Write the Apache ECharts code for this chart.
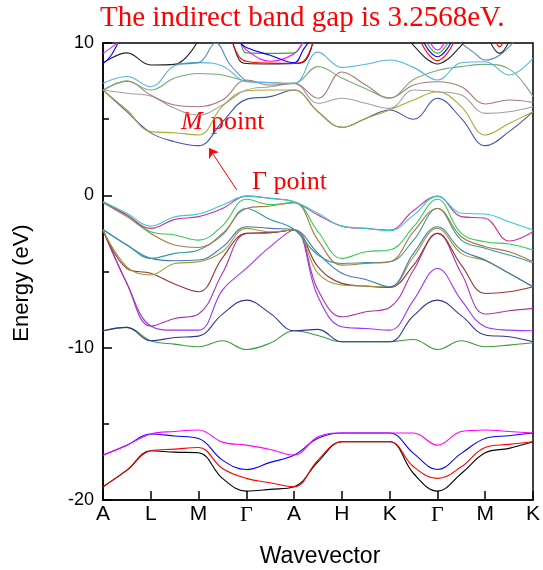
<!DOCTYPE html>
<html>
<head>
<meta charset="utf-8">
<script src="https://cdn.jsdelivr.net/npm/echarts@6/dist/echarts.min.js"></script>
<style>
html,body{margin:0;padding:0;background:#fff;}
#chart{width:543px;height:570px;}
</style>
</head>
<body>
<div id="chart"></div>
<script>
// k-path: A L M G A H K G M K, half steps
var kPath = [0,0.5,1,1.5,2,2.5,3,3.5,4,4.5,5,5.5,6,6.5,7,7.5,8,8.5,9];
var kLabels = ['A','L','M','Γ','A','H','K','Γ','M','K'];

// semicore bands (-15 .. -20 eV)
var core1 = [-19.13,-18.04,-16.77,-16.86,-16.9,-18.58,-19.42,-19.3,-19.13,-17.49,-16.18,-16.18,-16.18,-18.26,-19.42,-18.26,-16.9,-16.61,-16.18];
var core2 = [-19.13,-18.04,-16.77,-16.66,-16.55,-17.93,-18.58,-18.87,-19.13,-17.38,-16.18,-16.18,-16.18,-17.82,-18.58,-17.82,-16.55,-16.35,-16.18];
var core3 = [-17.05,-16.4,-15.67,-15.8,-15.96,-17.38,-18.0,-17.53,-17.05,-15.95,-15.6,-15.6,-15.6,-16.94,-18.0,-16.94,-15.96,-15.78,-15.6];
var core4 = [-17.05,-16.4,-15.67,-15.5,-15.4,-16.2,-16.4,-16.68,-17.05,-15.85,-15.6,-15.6,-15.6,-15.6,-16.4,-15.5,-15.4,-15.5,-15.6];

// valence bands
var val1 = [-8.89,-8.67,-9.55,-9.77,-9.94,-9.55,-10.12,-9.7,-8.89,-9.2,-9.61,-9.61,-9.61,-9.46,-10.12,-9.55,-9.94,-9.83,-9.68];
var val2 = [-8.89,-8.67,-9.55,-9.33,-9.24,-7.8,-6.88,-7.75,-8.89,-8.8,-9.61,-9.61,-9.61,-7.9,-6.88,-7.9,-9.17,-9.28,-9.61];
var val3 = [-2.28,-5.78,-8.58,-8.85,-8.85,-6.22,-4.8,-3.37,-2.28,-6.66,-8.63,-8.74,-8.85,-6.88,-4.8,-6.88,-8.63,-8.85,-8.89];
var val4 = [-2.28,-5.78,-8.58,-8.08,-7.79,-5.12,-2.5,-2.45,-2.28,-6.22,-7.97,-7.64,-7.36,-4.9,-2.5,-5.12,-7.79,-7.58,-7.42];
var val5 = [-2.28,-4.8,-5.12,-5.82,-6.33,-4.1,-2.5,-2.45,-2.28,-4.69,-5.78,-5.96,-6.04,-4.58,-2.5,-4.58,-6.44,-6.33,-6.0];
var val6 = [-2.28,-4.69,-5.23,-4.47,-4.36,-3.7,-2.17,-2.39,-2.28,-5.12,-5.89,-5.96,-6.0,-4.03,-2.17,-3.81,-4.29,-5.12,-6.0];
var val7 = [-2.24,-3.26,-4.14,-4.29,-4.25,-3.4,-2.06,-2.17,-2.24,-3.81,-5.12,-5.52,-6.0,-3.81,-2.06,-3.59,-4.25,-5.12,-6.0];
var val8 = [-2.24,-3.26,-4.14,-3.81,-3.59,-2.6,-0.86,-1.58,-2.24,-3.92,-4.47,-4.42,-4.36,-2.94,-0.86,-2.94,-3.48,-3.92,-4.42];
var val9 = [-0.48,-1.4,-2.5,-3.26,-3.42,-2.5,-0.86,-0.7,-0.48,-2.94,-4.58,-4.47,-4.36,-2.39,-0.86,-2.72,-3.37,-3.7,-4.36];
var val10 = [-0.42,-1.29,-2.39,-2.6,-2.94,-2.0,-0.26,-0.6,-0.48,-2.39,-4.14,-3.7,-3.59,-2.06,-0.26,-2.5,-3.05,-3.2,-3.59];
var val11 = [-0.42,-1.29,-2.17,-1.58,-1.4,-0.86,-0.05,-0.2,-0.42,-1.29,-2.02,-2.17,-2.28,-1.0,-0.05,-1.4,-1.51,-3.0,-2.39];
var val12 = [-0.42,-1.18,-2.02,-1.4,-1.23,-0.64,-0.05,-0.2,-0.42,-1.18,-2.02,-2.17,-2.32,-1.3,-0.05,-1.18,-1.23,-1.73,-2.28];

// conduction bands
var cond1 = [6.91,5.49,4.1,3.52,3.26,4.83,6.3,6.48,6.91,5.49,4.46,5.05,5.6,4.99,6.37,5.05,3.26,4.18,5.49];
var cond2 = [6.91,5.6,4.18,4.11,3.96,5.85,6.87,6.91,6.91,5.49,4.46,5.05,5.6,6.26,6.8,5.82,3.96,4.72,5.49];
var cond3 = [6.91,6.7,6.52,5.71,5.27,5.93,6.91,7.13,7.35,6.04,6.37,6.04,5.71,6.91,6.8,6.58,5.38,5.49,5.82];
var cond4 = [6.9,7.5,6.58,5.93,5.82,6.26,7.57,7.24,7.35,6.37,8.1,7.24,6.37,7.24,7.46,7.13,6.0,6.26,6.1];
var cond5 = [6.9,7.5,6.91,7.7,8.0,7.9,7.5,7.4,7.35,8.45,7.7,7.0,6.4,7.6,8.2,8.45,8.6,8.3,6.48];
var cond6 = [7.35,7.8,7.13,8.5,8.71,8.49,7.46,7.4,7.35,9.4,8.4,8.6,8.88,8.4,7.57,8.7,8.77,7.9,9.0];
var cond7 = [8.67,9.35,8.56,8.6,10.2];

// short bands near the top edge
var kSteelA = [1.5,2.0,2.36,2.65,3.0];
var steelA = [8.62,8.71,10.0,8.62,7.46];
var kSteelB = [7.45,7.75,8.0,8.3,8.6];
var steelB = [10.1,9.4,8.88,9.2,10.1];
var kEdgeA = [0,0.15,0.32];
var edgeBlue = [8.67,9.1,10.05];
var edgeMag = [9.32,9.65,10.05];

var kPocket1 = [2.7,2.85,3.0,3.5,4.0,4.2,4.4];
var p1Black = [10.3,8.9,8.65,8.62,8.65,8.75,10.1];
var p1Red = [10.1,9.1,8.8,8.68,8.66,8.8,10.1];
var p1Green = [10.6,10.2,9.35,9.32,9.35,10.1,10.8];
var p1Mag = [10.8,10.2,9.55,8.8,9.3,10.1,10.8];
var p1Blue = [10.8,10.1,9.7,9.2,8.7,9.6,10.5];

var kPocket2 = [6.4,6.6,6.8,7.0,7.2,7.4,7.6];
var p2Black = [10.2,9.5,8.9,8.62,8.9,9.5,10.2];
var p2Red = [11.5,10.4,9.3,8.84,9.3,10.4,11.5];
var p2Blue = [12,10.8,9.6,9.1,9.6,10.8,12];
var p2Green = [13,11.2,9.9,9.32,9.9,11.2,13];
var p2Mag = [14,11.8,10.3,9.54,10.3,11.8,14];

var kPocket3 = [8.1,8.3,8.5];
var p3Black = [10.1,9.32,10.1];
var kPocket4 = [8.2,8.3,8.4];
var p4Red = [10.2,9.76,10.2];

var bands = [
  {k:kPath, e:core1, c:'#000000'}, {k:kPath, e:core2, c:'#ff0000'},
  {k:kPath, e:core3, c:'#0000ff'}, {k:kPath, e:core4, c:'#ff00ff'},
  {k:kPath, e:val1, c:'#3a9a3a'}, {k:kPath, e:val2, c:'#333399'},
  {k:kPath, e:val3, c:'#9933ff'}, {k:kPath, e:val4, c:'#aa33aa'},
  {k:kPath, e:val5, c:'#993333'}, {k:kPath, e:val6, c:'#9c9c33'},
  {k:kPath, e:val7, c:'#4477bb'}, {k:kPath, e:val8, c:'#339c9c'},
  {k:kPath, e:val9, c:'#aa7744'}, {k:kPath, e:val10, c:'#33cc55'},
  {k:kPath, e:val11, c:'#cc3399'}, {k:kPath, e:val12, c:'#33cccc'},
  {k:kPath, e:cond1, c:'#4455aa'}, {k:kPath, e:cond2, c:'#aaaa33'},
  {k:kPath, e:cond3, c:'#a0a0a0'}, {k:kPath, e:cond4, c:'#aa7777'},
  {k:kPath, e:cond5, c:'#77aa77'}, {k:kPath, e:cond6, c:'#55b5dd'},
  {k:kPath, e:cond7, c:'#222222'},
  {k:kSteelA, e:steelA, c:'#5588bb'}, {k:kSteelB, e:steelB, c:'#5588bb'},
  {k:kEdgeA, e:edgeBlue, c:'#0000ff'}, {k:kEdgeA, e:edgeMag, c:'#cc33cc'},
  {k:kPocket1, e:p1Black, c:'#222222'}, {k:kPocket1, e:p1Red, c:'#ff0000'},
  {k:kPocket1, e:p1Green, c:'#33aa33'}, {k:kPocket1, e:p1Mag, c:'#ff00ff'},
  {k:kPocket1, e:p1Blue, c:'#0000ff'},
  {k:kPocket2, e:p2Black, c:'#222222'}, {k:kPocket2, e:p2Red, c:'#ff0000'},
  {k:kPocket2, e:p2Blue, c:'#0000ff'}, {k:kPocket2, e:p2Green, c:'#33aa33'},
  {k:kPocket2, e:p2Mag, c:'#ff00ff'},
  {k:kPocket3, e:p3Black, c:'#222222'}, {k:kPocket4, e:p4Red, c:'#ff0000'}
];

var chart = echarts.init(document.getElementById('chart'));

var series = [];
for (var i = 0; i < bands.length; i++) {
  var b = bands[i];
  var data = [];
  for (var j = 0; j < b.k.length; j++) {
    data.push([b.k[j], b.e[j]]);
  }
  series.push({
    type: 'line',
    data: data,
    smooth: 0.4,
    symbol: 'none',
    clip: true,
    silent: true,
    lineStyle: {color: b.c, width: 1.1},
    z: 2
  });
}
// arrow from the Gamma label to the M point minimum
series[16].markLine = {
  silent: true,
  symbol: ['none', 'arrow'],
  symbolSize: 9,
  label: {show: false},
  lineStyle: {color: '#ff0000', width: 1, type: 'solid'},
  data: [[{coord: [2.8, 0.35]}, {coord: [2.22, 3.1]}]]
};

var option = {
  backgroundColor: '#ffffff',
  animation: false,
  grid: {left: 103, top: 43, width: 434, height: 457, show: true, borderColor: '#000', borderWidth: 1.5, backgroundColor: 'transparent'},
  xAxis: {
    type: 'value', min: 0, max: 9, interval: 1,
    axisLine: {onZero: false, lineStyle: {color: '#000', width: 1.5}},
    axisTick: {inside: true, length: 9, lineStyle: {color: '#000', width: 1.5}},
    splitLine: {show: false},
    axisLabel: {
      margin: 4,
      color: '#000',
      fontFamily: 'Liberation Sans',
      fontSize: 21,
      formatter: function (v) {
        var t = kLabels[Math.round(v)];
        return t === 'Γ' ? '{g|Γ}' : t;
      },
      rich: {g: {fontFamily: 'Liberation Serif', fontSize: 22, color: '#000'}}
    }
  },
  yAxis: {
    type: 'value', min: -20, max: 10, interval: 10,
    axisLine: {onZero: false, lineStyle: {color: '#000', width: 1.5}},
    axisTick: {inside: true, length: 9, lineStyle: {color: '#000', width: 1.5}},
    minorTick: {show: true, splitNumber: 2, length: 6, lineStyle: {color: '#000', width: 1.5}},
    splitLine: {show: false},
    axisLabel: {margin: 9, color: '#000', fontFamily: 'Liberation Sans', fontSize: 18}
  },
  graphic: [
    {type: 'text', left: 100, top: 4, style: {text: 'The indirect band gap is 3.2568eV.', fill: '#ff0000', font: '29px "Liberation Serif"'}},
    {type: 'text', left: 181, top: 109, style: {text: 'M', fill: '#ff0000', font: 'italic 26px "Liberation Serif"'}},
    {type: 'text', left: 211, top: 109, style: {text: 'point', fill: '#ff0000', font: '26px "Liberation Serif"'}},
    {type: 'text', left: 252, top: 169, style: {text: 'Γ point', fill: '#ff0000', font: '26px "Liberation Serif"'}},
    {type: 'text', x: 22, y: 283, rotation: Math.PI / 2, style: {text: 'Energy (eV)', fill: '#000', font: '22px "Liberation Sans"', align: 'center', verticalAlign: 'middle'}},
    {type: 'text', x: 320, y: 557, style: {text: 'Wavevector', fill: '#000', font: '23px "Liberation Sans"', align: 'center', verticalAlign: 'middle'}}
  ],
  series: series
};
chart.setOption(option);
</script>
</body>
</html>
